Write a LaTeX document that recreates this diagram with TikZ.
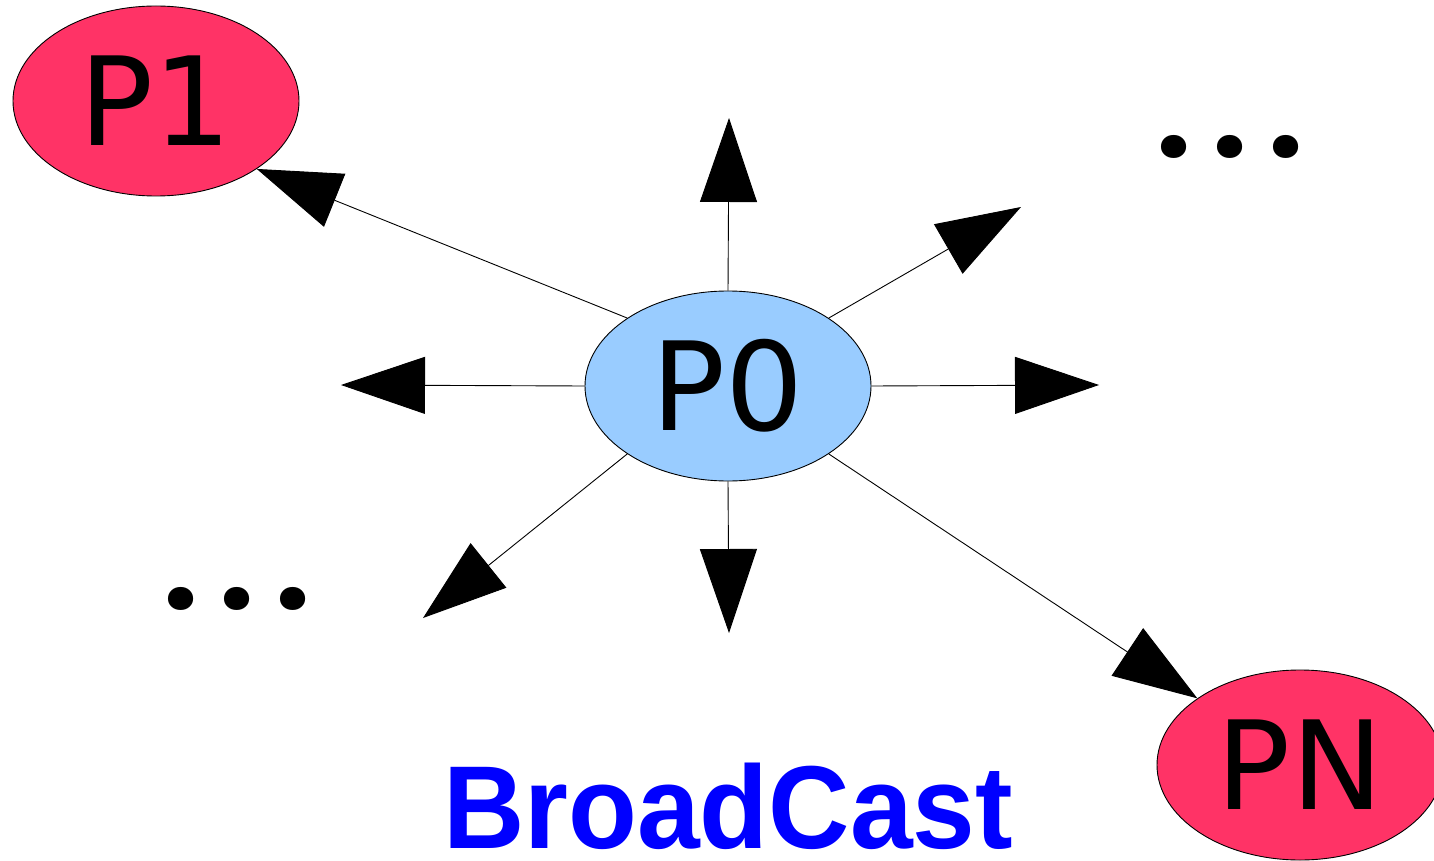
\documentclass[tikz,border=0pt]{standalone}
\usepackage{fontspec}
\usetikzlibrary{arrows.meta,shapes.geometric}
\newfontfamily\procfont{DejaVu Sans}
\newfontfamily\castfont{Liberation Sans}
\newfontfamily\dotfont{Poppins}
\definecolor{rootblue}{HTML}{99CCFF}
\definecolor{procred}{HTML}{FF3366}
\definecolor{castblue}{HTML}{0000FF}
\newcommand{\dotgap}{\hspace{10.7pt}}

\begin{document}
\begin{tikzpicture}[
        x=0.5pt, y=-0.5pt,
        line width=0.45pt
    ]
    \tikzset{
        procnode/.style = {ellipse, draw=black, inner sep=0pt, minimum width=143pt, minimum height=95pt, font={\procfont\fontsize{61.5}{61.5}\selectfont}},
        bcastarrow/.style = {-{Triangle[length=42pt,width=28.5pt]}},
        dotsnode/.style = {anchor=base, inner sep=0pt, font={\dotfont\bfseries\fontsize{62}{62}\selectfont}},
        castnode/.style = {anchor=base, inner sep=0pt, text=castblue, font={\castfont\bfseries\fontsize{59}{59}\selectfont}}
    }
    \useasboundingbox (0,0) rectangle (1434,861);
    \node[procnode, fill=rootblue] (P0) at (728,386) {P0};
    \node[procnode, fill=procred] (P1) at (156,101) {P1};
    \node[procnode, fill=procred] (PN) at (1300,765) {PN};
    % free ends of the broadcast arrows
    \coordinate (tipN)  at (729,118);
    \coordinate (tipNE) at (1021,207);
    \coordinate (tipE)  at (1099,385);
    \coordinate (tipW)  at (341,385);
    \coordinate (tipSW) at (423,618);
    \coordinate (tipS)  at (729,633);
    \draw[bcastarrow] (P0.146) -- (P1.-34);
    \draw[bcastarrow] (P0.north) -- (tipN);
    \draw[bcastarrow] (P0.34) -- (tipNE);
    \draw[bcastarrow] (P0.east) -- (tipE);
    \draw[bcastarrow] (P0.west) -- (tipW);
    \draw[bcastarrow] (P0.214) -- (tipSW);
    \draw[bcastarrow] (P0.south) -- (tipS);
    \draw[bcastarrow] (P0.-34) -- (PN.147);
    \node[dotsnode] (dotsNE) at (1230,158) {.\dotgap.\dotgap.};
    \node[dotsnode] (dotsSW) at (237,609) {.\dotgap.\dotgap.};
    \node[castnode] (cast) at (728,848) {\scalebox{0.955}[1]{BroadCast}};
\end{tikzpicture}
\end{document}
